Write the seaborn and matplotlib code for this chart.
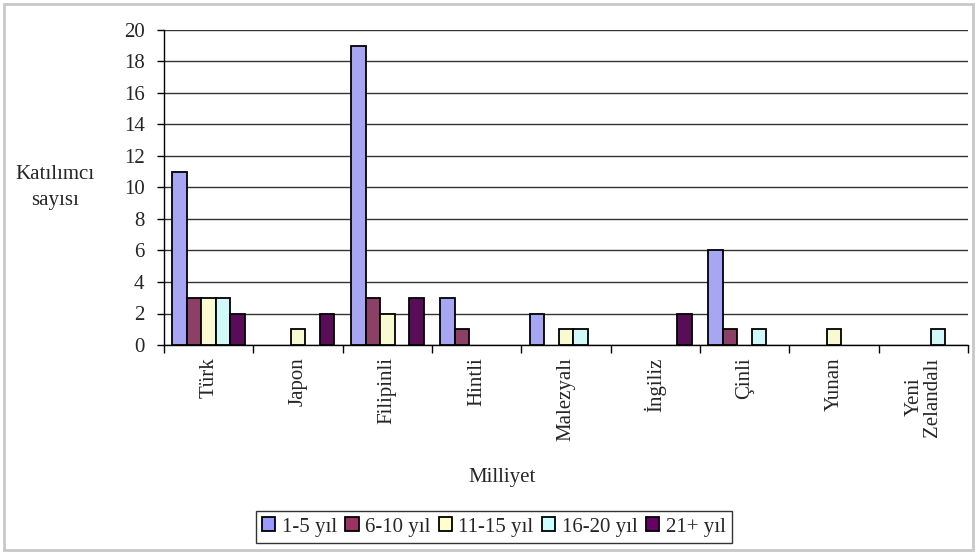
import matplotlib
matplotlib.use("Agg")
import matplotlib.pyplot as plt
from matplotlib.patches import Rectangle, Patch
import seaborn as sns
import pandas as pd
import numpy as np

# Nationalities of participants and years-of-residence groups
categories = ["Türk", "Japon", "Filipinli", "Hintli", "Malezyalı",
              "İngiliz", "Çinli", "Yunan", "Yeni\nZelandalı"]
series_names = ["1-5 yıl", "6-10 yıl", "11-15 yıl", "16-20 yıl", "21+ yıl"]
yil_1_5 = [11, 0, 19, 3, 2, 0, 6, 0, 0]
yil_6_10 = [3, 0, 3, 1, 0, 0, 1, 0, 0]
yil_11_15 = [3, 1, 2, 0, 1, 0, 0, 1, 0]
yil_16_20 = [3, 0, 0, 0, 1, 0, 1, 0, 1]
yil_21_plus = [2, 2, 3, 0, 0, 2, 0, 0, 0]
colors = ["#9999FF", "#993366", "#FFFFCC", "#CCFFFF", "#660066"]
y_ticks = [0, 2, 4, 6, 8, 10, 12, 14, 16, 18, 20]

values = [yil_1_5, yil_6_10, yil_11_15, yil_16_20, yil_21_plus]
df = pd.DataFrame(
    [(c, s, v[i]) for s, v in zip(series_names, values) for i, c in enumerate(categories)],
    columns=["Milliyet", "Grup", "Sayı"],
)

sns.set_theme(style="white")
plt.rcParams["font.family"] = ["Liberation Serif", "DejaVu Serif"]
FS = 15

fig = plt.figure(figsize=(9.77, 5.56), dpi=100)
ax = fig.add_axes([164 / 977, 211 / 556, (968 - 164) / 977, (345 - 30) / 556])

sns.barplot(data=df, x="Milliyet", y="Sayı", hue="Grup", order=categories,
            hue_order=series_names, palette=colors, width=0.81,
            edgecolor="black", linewidth=1.3, ax=ax, zorder=3, legend=False)

# empty groups draw nothing
for bar in ax.patches:
    if bar.get_height() == 0:
        bar.set_visible(False)

ax.set_ylim(0, 20)
ax.set_xlim(-0.5, len(categories) - 0.5)
ax.set_yticks(y_ticks)
ax.set_yticklabels([str(t) for t in y_ticks], fontsize=FS)
ax.yaxis.grid(True, color="#333333", linewidth=1.0, zorder=0)
ax.set_axisbelow(True)

# category labels rotated, boundary tick marks between groups
ax.set_xticks(range(len(categories)))
ax.set_xticklabels(categories, rotation=90, fontsize=FS, va="top", ha="center",
                   linespacing=0.95)
ax.tick_params(axis="x", which="major", length=0, pad=9)
ax.set_xticks(np.arange(-0.5, len(categories), 1.0), minor=True)
ax.tick_params(axis="x", which="minor", length=6, width=1, color="black",
               direction="out", bottom=True)
ax.tick_params(axis="y", length=5, width=1, color="black", direction="out",
               left=True, pad=9)

for side in ["top", "right"]:
    ax.spines[side].set_visible(False)
for side in ["left", "bottom"]:
    ax.spines[side].set_color("black")
    ax.spines[side].set_linewidth(1.0)

ax.set_xlabel("Milliyet", fontsize=FS, va="center")
ax.xaxis.set_label_coords(0.42, -0.42)
ax.set_ylabel("Katılımcı\nsayısı", fontsize=FS, rotation=0, ha="center",
              va="center", linespacing=1.5)
ax.yaxis.set_label_coords(-109 / 804, 0.5)

handles = [Patch(facecolor=c, edgecolor="black", linewidth=1.3, label=s)
           for c, s in zip(colors, series_names)]
leg = ax.legend(handles=handles, loc="center", bbox_to_anchor=(0.41, -0.578),
                ncol=5, fontsize=FS, frameon=True, fancybox=False,
                edgecolor="black", handlelength=0.65, handleheight=0.65,
                handletextpad=0.3, columnspacing=0.4, borderpad=0.3,
                borderaxespad=0)
leg.get_frame().set_linewidth(1.0)

# light outer frame of the chart area
fig.patches.append(Rectangle((4 / 977, 6 / 556), 969 / 977, 546 / 556,
                             transform=fig.transFigure, fill=False,
                             edgecolor="#c8c8c8", linewidth=2))

fig.savefig("out.png", dpi=100)
